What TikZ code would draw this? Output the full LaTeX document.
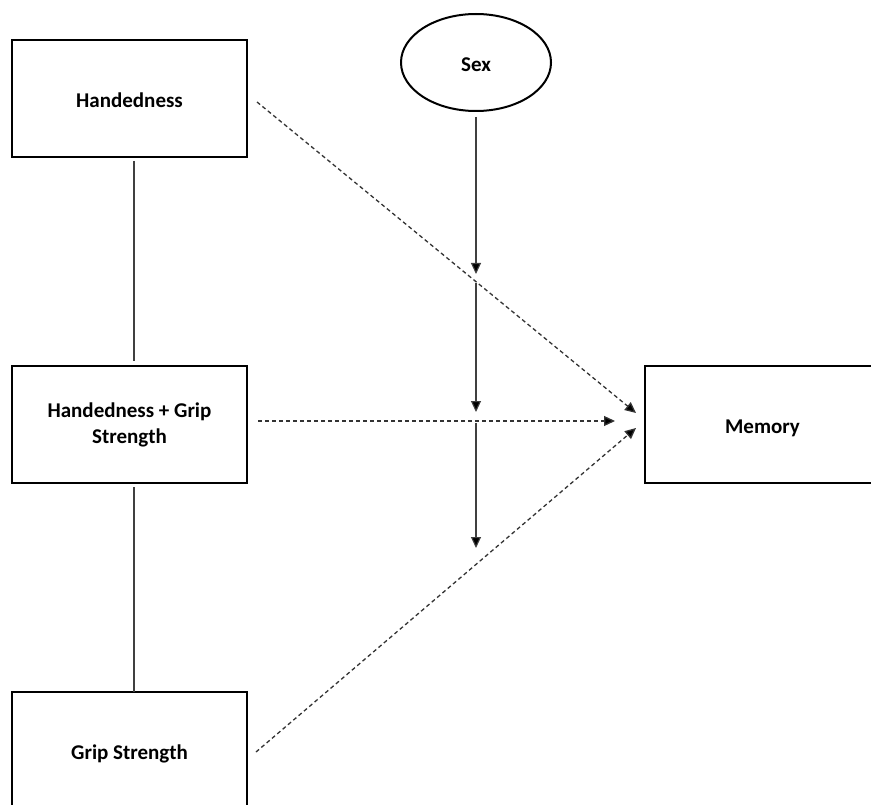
\documentclass[tikz,border=0pt]{standalone}
\usepackage{fontspec}
\setmainfont{Carlito}
\usetikzlibrary{arrows.meta,shapes.geometric}
\newcommand{\lowtext}[1]{\raisebox{-9pt}[0pt][0pt]{#1}}
\begin{document}
\begin{tikzpicture}[x=1pt,y=-1pt,
  box/.style={draw=black,line width=2pt,minimum width=235pt,minimum height=117pt,inner sep=0pt,align=center,
    font=\fontsize{21}{26}\selectfont\bfseries},
  oval/.style={draw=black,line width=2pt,ellipse,minimum width=150pt,minimum height=97pt,inner sep=0pt,
    font=\fontsize{21}{26}\selectfont\bfseries},
  link/.style={draw=black!75,line width=1.1pt},
  mod/.style={draw=black!75,line width=1.1pt,-{Triangle[length=11pt,width=10pt,fill=black]}},
  eff/.style={draw=black!80,line width=1.3pt,dash pattern=on 4pt off 3pt,-{Triangle[length=11pt,width=10pt,fill=black]}}
]
\useasboundingbox (0,0) rectangle (871,805);
\clip (0,0) rectangle (871,805);
\fill[white] (0,0) rectangle (871,805);
% nodes
\node[box] (hand) at (129.5,98.5) {\lowtext{Handedness}};
\node[box] (hg) at (129.5,424.5) {Handedness + Grip\\Strength};
\node[box] (grip) at (129.5,750.5) {\lowtext{Grip Strength}};
\node[box] (mem) at (762.5,424.5) {\lowtext{Memory}};
\node[oval] (sex) at (476,62.5) {\lowtext{Sex}};
% coordinates
\coordinate (s1) at (476,117);
\coordinate (a1) at (476,274);
\coordinate (s2) at (476,283);
\coordinate (a2) at (476,412);
\coordinate (s3) at (476,423);
\coordinate (a3) at (476,548);
\coordinate (ho) at (257,102);
\coordinate (hgo) at (258,421);
\coordinate (go) at (256,752);
\coordinate (m1) at (636,413);
\coordinate (m2) at (615,421);
\coordinate (m3) at (636,428);
\coordinate (l1a) at (134,161);
\coordinate (l1b) at (134,361);
\coordinate (l2a) at (134,487);
\coordinate (l2b) at (134,692);
% box links
\draw[link] (l1a) -- (l1b);
\draw[link] (l2a) -- (l2b);
% moderator arrows
\draw[mod] (s1) -- (a1);
\draw[mod] (s2) -- (a2);
\draw[mod] (s3) -- (a3);
% effects
\draw[eff] (ho) -- (m1);
\draw[eff] (hgo) -- (m2);
\draw[eff] (go) -- (m3);
\end{tikzpicture}
\end{document}
